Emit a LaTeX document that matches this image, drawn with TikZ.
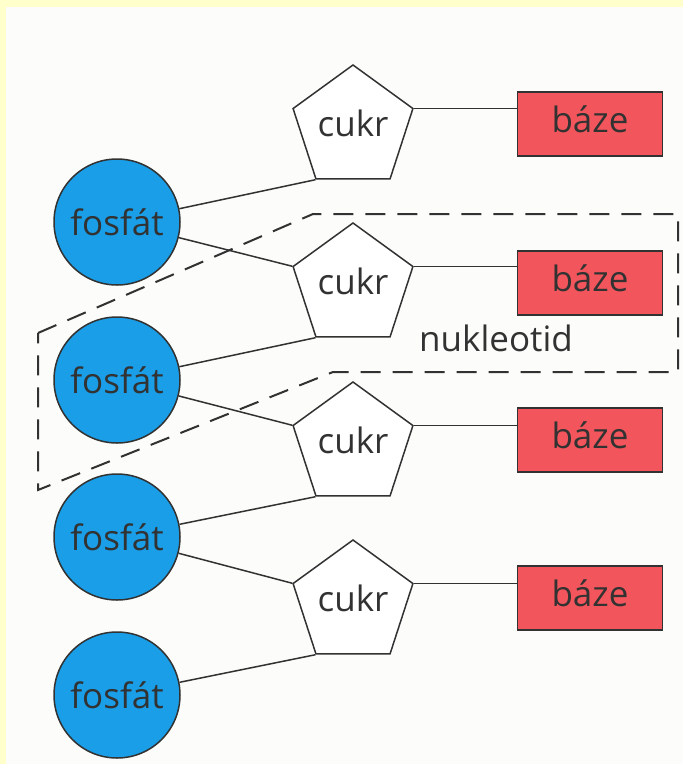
\documentclass[tikz,border=0pt]{standalone}
\usepackage{fontspec}
\setmainfont{Open Sans}
\usetikzlibrary{shapes.geometric}
\definecolor{fosfatblue}{RGB}{26,158,232}
\definecolor{bazered}{RGB}{242,86,92}
\definecolor{ink}{RGB}{50,50,50}
\definecolor{paper}{RGB}{252,252,250}
\definecolor{rim}{RGB}{255,255,204}
\tikzset{fosfat/.style={circle, draw=ink, fill=fosfatblue, line width=1.5pt, minimum size=126pt, inner sep=0pt},
	cukr/.style={regular polygon, regular polygon sides=5, draw=ink, fill=white, line width=1.5pt, minimum size=126pt, inner sep=0pt, text depth=10pt},
	baze/.style={rectangle, draw=ink, fill=bazered, line width=1.5pt, minimum width=145pt, minimum height=64pt, inner sep=0pt, text depth=9pt},
	bond/.style={draw=ink, line width=1.5pt},
	usek/.style={draw=ink, line width=2pt, dash pattern=on 20pt off 12pt}}

\begin{document}
\begin{tikzpicture}[x=1pt, y=-1pt, text=ink, font=\fontsize{35}{36}\selectfont]
	\fill[rim] (0,0) rectangle (683,764);
	\fill[paper] (6,7) rectangle (683,764);
	\useasboundingbox (0,0) rectangle (683,764);

	\node[fosfat] (f1) at (117,222) {fosfát};
	\node[fosfat] (f2) at (117,380) {fosfát};
	\node[fosfat] (f3) at (117,537) {fosfát};
	\node[fosfat] (f4) at (117,695) {fosfát};

	\node[cukr] (c1) at (353,128) {cukr};
	\node[cukr] (c2) at (353,286) {cukr};
	\node[cukr] (c3) at (353,445) {cukr};
	\node[cukr] (c4) at (353,603) {cukr};

	\node[baze] (b1) at (590,124) {báze};
	\node[baze] (b2) at (590,283) {báze};
	\node[baze] (b3) at (590,440) {báze};
	\node[baze] (b4) at (590,598) {báze};

	\node (nuk) at (496,338) {nukleotid};

	\path[bond]
		(f1) edge (c1.corner 3)
		(f1) edge (c2.corner 2)
		(f2) edge (c2.corner 3)
		(f2) edge (c3.corner 2)
		(f3) edge (c3.corner 3)
		(f3) edge (c4.corner 2)
		(f4) edge (c4.corner 3)
		(c1.corner 5) edge (c1.corner 5 -| b1.west)
		(c2.corner 5) edge (c2.corner 5 -| b2.west)
		(c3.corner 5) edge (c3.corner 5 -| b3.west)
		(c4.corner 5) edge (c4.corner 5 -| b4.west)
		;

	% nukleotid
	\draw[usek] (38,333) -- (313,214) -- (678,214) -- (678,372) -- (333,372) -- (38,490) -- cycle;
\end{tikzpicture}
\end{document}
